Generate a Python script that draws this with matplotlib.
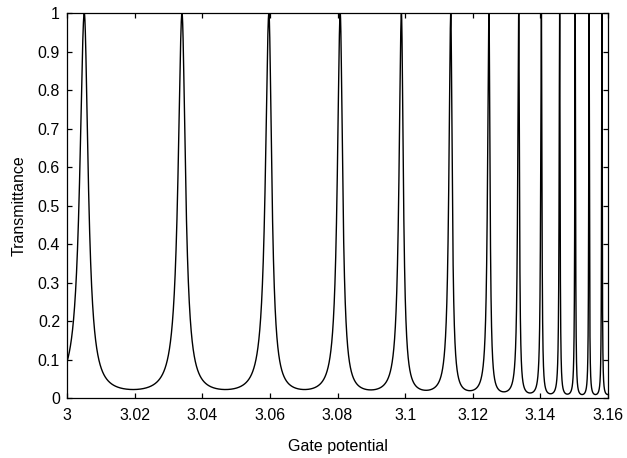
import numpy as np
import matplotlib
matplotlib.use("Agg")
import matplotlib.pyplot as plt

# Resonance (peak) positions in gate potential
# (first and last are just outside the visible range)
peak_positions = [2.972, 3.0051, 3.0340, 3.0597, 3.0808, 3.0989, 3.1135,
                  3.1248, 3.1336, 3.1403, 3.1457, 3.1503, 3.1544, 3.1582, 3.1617]
# Minimum transmittance of each valley between consecutive peaks
valley_minima = [0.022, 0.022, 0.022, 0.022, 0.021, 0.020, 0.019,
                 0.016, 0.013, 0.011, 0.010, 0.009, 0.009, 0.009]

x_ticks = [3.0, 3.02, 3.04, 3.06, 3.08, 3.10, 3.12, 3.14, 3.16]
x_tick_labels = ["3", "3.02", "3.04", "3.06", "3.08", "3.1", "3.12", "3.14", "3.16"]
y_ticks = [0, 0.1, 0.2, 0.3, 0.4, 0.5, 0.6, 0.7, 0.8, 0.9, 1.0]
y_tick_labels = ["0", "0.1", "0.2", "0.3", "0.4", "0.5", "0.6", "0.7", "0.8", "0.9", "1"]

# Airy-type resonance curve through the given peaks and valley depths
V = np.linspace(3.0, 3.16, 200001)
P = np.array(peak_positions)
phase = np.interp(V, P, np.arange(len(P))) * np.pi
seg = np.clip(np.floor(phase / np.pi).astype(int), 0, len(valley_minima) - 1)
F = 1.0 / np.array(valley_minima) - 1.0
T = 1.0 / (1.0 + F[seg] * np.sin(phase) ** 2)

plt.rcParams['font.family'] = ['Liberation Sans', 'DejaVu Sans']
fig = plt.figure(figsize=(6.27, 4.58), dpi=100)
ax = fig.add_axes([0.1069, 0.131, 0.8628, 0.8406])
ax.plot(V, T, color='black', linewidth=1.0)

ax.set_xlim(3.0, 3.16)
ax.set_ylim(0, 1)
ax.set_xticks(x_ticks)
ax.set_xticklabels(x_tick_labels)
ax.set_yticks(y_ticks)
ax.set_yticklabels(y_tick_labels)
ax.tick_params(direction='in', top=True, right=True, length=3.5, width=0.9,
               labelsize=11.5, colors='black')
ax.tick_params(axis='x', pad=7)
ax.tick_params(axis='y', pad=5)
for s in ax.spines.values():
    s.set_linewidth(0.9)

ax.set_xlabel("Gate potential", fontsize=11.5, labelpad=12)
ax.set_ylabel("Transmittance", fontsize=11.5, labelpad=8)

fig.savefig("out.png", dpi=100)
